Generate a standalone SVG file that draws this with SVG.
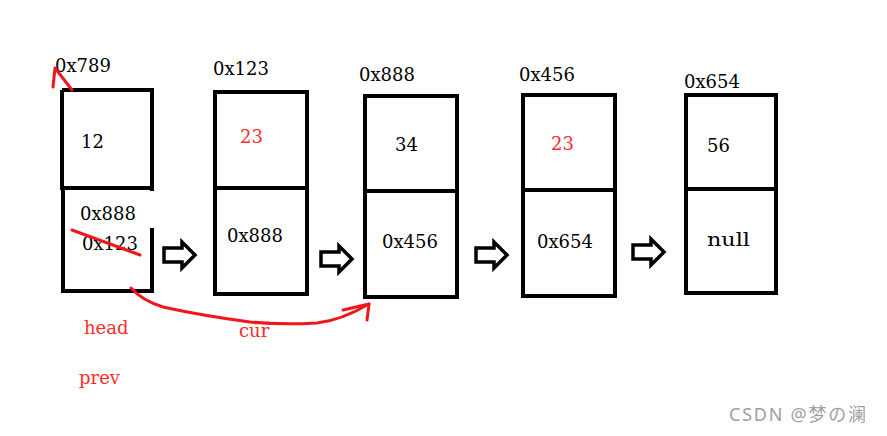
<svg xmlns="http://www.w3.org/2000/svg" width="887" height="436" viewBox="0 0 887 436">
<style>
.box{fill:none;stroke:#000;stroke-width:4}
.t{font-family:"DejaVu Serif","Liberation Serif",serif;font-size:18px;fill:#000}
.r{fill:#ff2a2a}
.red{fill:none;stroke:#f2161c;stroke-width:3;stroke-linecap:round;stroke-linejoin:round}
.ar{fill:#fff;stroke:#000;stroke-width:3.5;stroke-linejoin:miter}
.wm{font-family:"Noto Sans","Noto Sans CJK SC",sans-serif;font-size:18px;fill:#a0a0a0}
</style>
<defs>
<path id="hollow" d="M0,6 H18 V0 L31,13 L18,26 V20 H0 Z"/>
</defs>
<rect width="887" height="436" fill="#fff"/>
<g id="node1">
<path class="box" d="M62,90 H152 V191 M62,90 V188 H152 M63,188 V291 H152 V228"/>
<text class="t" x="55" y="72">0x789</text>
<text class="t" x="81" y="148">12</text>
<text class="t" x="80" y="220">0x888</text>
<text class="t" x="82" y="250">0x123</text>
</g>
<g id="node2">
<rect class="box" x="215" y="92" width="92" height="202"/>
<line class="box" x1="215" y1="188" x2="307" y2="188"/>
<text class="t" x="213" y="75">0x123</text>
<text class="t r" x="240" y="143">23</text>
<text class="t" x="227" y="242">0x888</text>
</g>
<g id="node3">
<rect class="box" x="365" y="96" width="92" height="201"/>
<line class="box" x1="365" y1="191" x2="457" y2="191"/>
<text class="t" x="359" y="81">0x888</text>
<text class="t" x="395" y="151">34</text>
<text class="t" x="382" y="248">0x456</text>
</g>
<g id="node4">
<rect class="box" x="523" y="95" width="92" height="201"/>
<line class="box" x1="523" y1="190" x2="615" y2="190"/>
<text class="t" x="519" y="81">0x456</text>
<text class="t r" x="551" y="150">23</text>
<text class="t" x="537" y="248">0x654</text>
</g>
<g id="node5">
<rect class="box" x="686" y="95" width="90" height="198"/>
<line class="box" x1="686" y1="189" x2="776" y2="189"/>
<text class="t" x="684" y="88">0x654</text>
<text class="t" x="707" y="152">56</text>
<text class="t" x="707" y="246" textLength="43" lengthAdjust="spacingAndGlyphs">null</text>
</g>
<g id="connectors">
<use href="#hollow" class="ar" transform="translate(164,242)"/>
<use href="#hollow" class="ar" transform="translate(321,246)"/>
<use href="#hollow" class="ar" transform="translate(476,242)"/>
<use href="#hollow" class="ar" transform="translate(633,239)"/>
<path class="red" d="M72,90 L55,68 M55,68 L53,87"/>
<path class="red" d="M72,230 L140,255"/>
<path class="red" d="M131,288 C140,298 150,303 163,307 C190,313 220,318 250,322 C280,325 300,324 317,323 C335,321 352,314 369,304"/>
<path class="red" d="M343,310 L369,304 L367,320"/>
</g>
<g id="labels">
<text class="t r" x="84" y="334">head</text>
<text class="t r" x="239" y="337">cur</text>
<text class="t r" x="79" y="384">prev</text>
</g>
<text class="wm" x="729" y="421" textLength="137">CSDN @梦の澜</text>
</svg>
